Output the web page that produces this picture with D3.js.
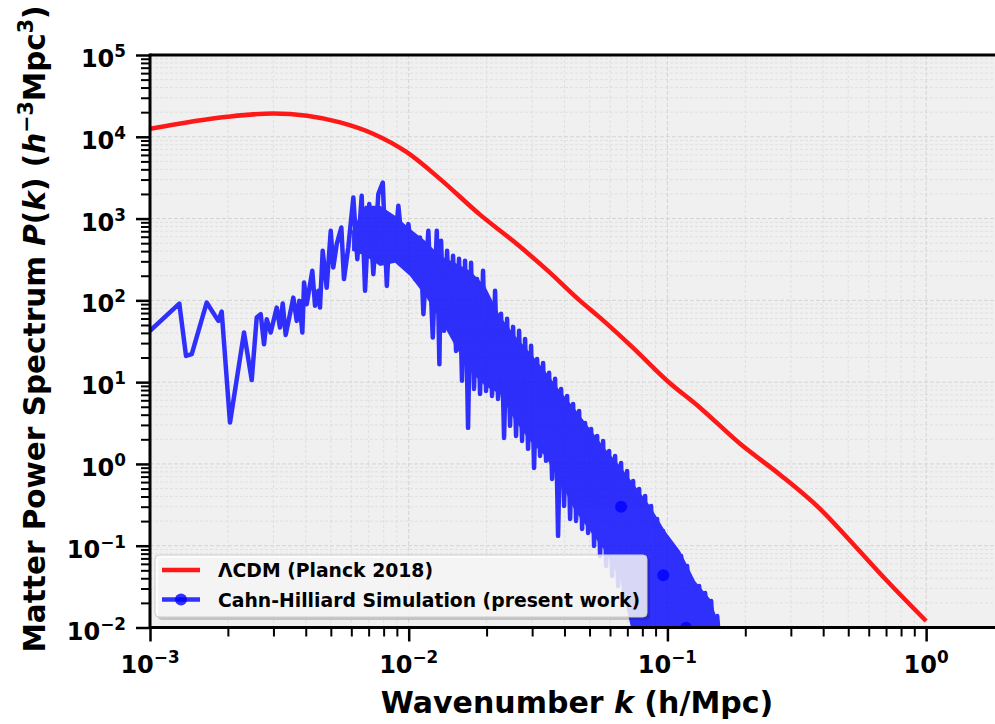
<!DOCTYPE html>
<html>
<head>
<meta charset="utf-8">
<script src="https://cdn.jsdelivr.net/npm/d3@7"></script>
<style>
  body { margin: 0; background: #fff; }
  svg { display: block; font-family: "DejaVu Sans", sans-serif; font-weight: bold; }
</style>
</head>
<body>
<svg id="chart" width="995" height="724"></svg>
<script>
// simulation spectrum (k in h/Mpc, P in (h^-1 Mpc)^3)
const simK = [
  1.0e-3, 1.298e-3, 1.378e-3, 1.45e-3, 1.656e-3, 1.837e-3, 1.893e-3, 2.038e-3, 2.309e-3, 2.473e-3,
  2.585e-3, 2.679e-3, 2.759e-3, 2.826e-3, 2.928e-3, 3.09e-3, 3.18e-3, 3.258e-3, 3.346e-3, 3.581e-3,
  3.691e-3, 3.778e-3, 3.88e-3, 3.94e-3, 4.035e-3, 4.24e-3, 4.345e-3, 4.475e-3, 4.54e-3, 4.65e-3,
  4.82e-3, 4.996e-3, 5.11e-3, 5.27e-3, 5.49e-3, 5.62e-3, 5.84e-3, 6.11e-3, 6.33e-3, 6.58e-3,
  6.78e-3, 7.04e-3, 7.30e-3, 7.63e-3, 7.94e-3, 8.23e-3, 8.47e-3, 8.86e-3, 9.12e-3, 9.53e-3,
  9.97e-3, 0.01058, 0.01106, 0.0114, 0.01191, 0.01239, 0.01284, 0.01314,
  0.01334, 0.01370, 0.01407, 0.01445, 0.01484, 0.01524, 0.01565, 0.01607, 0.01651, 0.01696,
  0.01742, 0.01789, 0.01837, 0.01887, 0.01938, 0.01991, 0.02044, 0.02100, 0.02157, 0.02215,
  0.02275, 0.02337, 0.02400, 0.02465, 0.02532, 0.02600, 0.02671, 0.02743, 0.02817, 0.02894,
  0.02972, 0.03052, 0.03135, 0.03220, 0.03307, 0.03396, 0.03488, 0.03583, 0.03680, 0.03779,
  0.03882, 0.03987, 0.04095, 0.04206, 0.04319, 0.04436, 0.04556, 0.04680, 0.04806, 0.04937,
  0.05070, 0.05207, 0.05348, 0.05493, 0.05641, 0.05794, 0.05951, 0.06112, 0.06277, 0.06447,
  0.06622, 0.06801, 0.06985, 0.07174, 0.07368, 0.07568, 0.07773, 0.07983, 0.08199, 0.08421,
  0.08649, 0.08883, 0.09124, 0.09371, 0.09625, 0.09886, 0.1015, 0.1043, 0.1071, 0.1100,
  0.1130, 0.1160, 0.1192, 0.1224, 0.1257, 0.1291, 0.1326, 0.1362, 0.1399, 0.1437,
  0.1476, 0.1516, 0.1557, 0.1599
];
const simP = [
  42.4, 91.4, 20.9, 22.0, 94.0, 56.1, 72.9, 3.20, 40.4, 10.6,
  61.6, 67.8, 29.1, 58.9, 40.4, 81.6, 46.5, 91.4, 37.8, 108,
  56.1, 98.6, 40.4, 165, 89.8, 230, 85.7, 131, 81.6, 403,
  143, 708, 252, 487, 777, 182, 443, 1808, 319, 1897,
  131, 1503, 209, 1991, 2760, 150, 1030, 509, 1432, 334,
  855, 182, 586, 67.8, 708, 35.1, 708, 16.6,
  534, 42.4, 403, 46.1, 350, 24.1, 322, 10.4, 304, 2.76,
  288, 8.27, 183, 7.18, 230, 7.82, 98.6, 6.79, 131, 6.24,
  68.4, 2.08, 59.4, 2.92, 47.4, 2.20, 42.4, 1.91, 33.8, 1.53,
  27.8, 0.894, 19.2, 1.25, 17.2, 1.09, 13.0, 0.655, 11.0, 0.132,
  8.27, 0.306, 6.79, 0.212, 5.42, 0.201, 4.45, 0.160, 3.17, 0.143,
  2.68, 0.0993, 2.20, 0.0749, 1.91, 0.0565, 1.44, 0.0427, 1.25, 0.0322,
  1.03, 0.0243, 0.821, 0.0159, 0.619, 0.0104, 0.494, 0.006, 0.406, 0.005,
  0.306, 0.005, 0.212, 0.004, 0.151, 0.005, 0.114, 0.005, 0.0913, 0.004,
  0.0749, 0.005, 0.0565, 0.005, 0.0350, 0.004, 0.0322, 0.005, 0.0264, 0.005,
  0.0211, 0.004, 0.0138, 0.005
];
// where the simulated modes are so dense they merge into a solid band: its upper / lower edge
const bandK = [6.04e-3, 6.78e-3, 7.75e-3, 8.86e-3, 0.01012, 0.01157, 0.01322, 0.01510, 0.01726, 0.01973,
  0.02254, 0.02577, 0.02945, 0.03365, 0.03846, 0.04395, 0.05023, 0.05741, 0.06561, 0.07499,
  0.08570, 0.09795, 0.1119, 0.1279, 0.1462, 0.1542];
const bandHi = [708, 1432, 1432, 1080, 749, 534, 350, 288, 229.5, 150,
  64.6, 36.8, 22.8, 13.7, 7.82, 4.71, 2.68, 1.53, 0.945, 0.538,
  0.306, 0.151, 0.0863, 0.0371, 0.0223, 0.0138];
const bandLo = [403, 350, 264, 288, 199, 113.5, 59.4, 27.8, 13.7, 9.0,
  7.18, 3.36, 1.91, 1.25, 0.619, 0.266, 0.151, 0.0863, 0.0392, 0.006,
  0.006, 0.006, 0.006, 0.006, 0.006, 0.006];
// the few markers that show through
const markK = [0.0662, 0.0964, 0.1181];
const markP = [0.300, 0.0435, 0.00994];

// LCDM linear spectrum
const lcdmK = [1e-3, 1.99e-3, 2.99e-3, 4.05e-3, 5.43e-3, 7.28e-3, 9.86e-3, 0.0132, 0.0189, 0.0253,
  0.0342, 0.046, 0.055, 0.0737, 0.0997, 0.134, 0.191, 0.273, 0.389, 0.522, 0.707, 1.0];
const lcdmP = [1.25e4, 1.76e4, 1.93e4, 1.81e4, 1.50e4, 1.09e4, 6.43e3, 3.06e3, 1.11e3, 534,
  236, 98.6, 61, 26.2, 10.4, 4.84, 1.76, 0.734, 0.282, 0.105, 0.037, 0.012];

const xTickVals = [1e-3, 1e-2, 1e-1, 1];
const xTickExps = ["\u22123", "\u22122", "\u22121", "0"];
const yTickVals = [1e-2, 1e-1, 1, 10, 100, 1e3, 1e4, 1e5];
const yTickExps = ["\u22122", "\u22121", "0", "1", "2", "3", "4", "5"];
const legendLabels = ["\u039BCDM (Planck 2018)", "Cahn-Hilliard Simulation (present work)"];

const plotL = 150, plotT = 55, plotR = 1004, plotB = 627.5;

const svg = d3.select("#chart");

const x = d3.scaleLog().domain([1e-3, 2]).range([plotL, plotR]);
const y = d3.scaleLog().domain([1e-2, 1e5]).range([plotB, plotT]);

// minor tick positions
const xMinor = [];
for (let d = -3; d <= 0; d++) for (let m = 2; m <= 9; m++) { const v = m * Math.pow(10, d); if (v <= 2) xMinor.push(v); }
const yMinor = [];
for (let d = -2; d <= 4; d++) for (let m = 2; m <= 9; m++) yMinor.push(m * Math.pow(10, d));

svg.append("defs").append("clipPath").attr("id", "plotclip")
  .append("rect").attr("x", plotL).attr("y", plotT).attr("width", plotR - plotL).attr("height", plotB - plotT);

svg.append("rect")
  .attr("x", plotL).attr("y", plotT).attr("width", plotR - plotL).attr("height", plotB - plotT)
  .attr("fill", "#f0f0f0");

// grid
const grid = svg.append("g").attr("clip-path", "url(#plotclip)");
grid.selectAll(".gxm").data(xMinor).enter().append("line")
  .attr("x1", d => x(d)).attr("x2", d => x(d)).attr("y1", plotT).attr("y2", plotB)
  .attr("stroke", "#dcdcdc").attr("stroke-width", 0.8).attr("stroke-dasharray", "3,2");
grid.selectAll(".gym").data(yMinor).enter().append("line")
  .attr("x1", plotL).attr("x2", plotR).attr("y1", d => y(d)).attr("y2", d => y(d))
  .attr("stroke", "#dcdcdc").attr("stroke-width", 0.8).attr("stroke-dasharray", "3,2");
grid.selectAll(".gx").data(xTickVals).enter().append("line")
  .attr("x1", d => x(d)).attr("x2", d => x(d)).attr("y1", plotT).attr("y2", plotB)
  .attr("stroke", "#d4d4d4").attr("stroke-width", 1).attr("stroke-dasharray", "4,2");
grid.selectAll(".gy").data(yTickVals).enter().append("line")
  .attr("x1", plotL).attr("x2", plotR).attr("y1", d => y(d)).attr("y2", d => y(d))
  .attr("stroke", "#d4d4d4").attr("stroke-width", 1).attr("stroke-dasharray", "4,2");

// curves
const plot = svg.append("g").attr("clip-path", "url(#plotclip)");

const lcdmData = lcdmK.map((k, i) => [k, lcdmP[i]]);
const simData = simK.map((k, i) => [k, simP[i]]);
const bandData = bandK.map((k, i) => [k, bandLo[i], bandHi[i]]);

plot.append("path")
  .datum(lcdmData)
  .attr("d", d3.line().x(d => x(d[0])).y(d => y(d[1])).curve(d3.curveMonotoneX))
  .attr("fill", "none")
  .attr("stroke", "#ff0000")
  .attr("stroke-opacity", 0.9)
  .attr("stroke-width", 4.5);

// band + line share one alpha so they don't stack
const sim = plot.append("g").attr("opacity", 0.8);
sim.append("path")
  .datum(bandData)
  .attr("d", d3.area().x(d => x(d[0])).y0(d => y(d[1])).y1(d => y(d[2])))
  .attr("fill", "#0000ff");
sim.append("path")
  .datum(simData)
  .attr("d", d3.line().x(d => x(d[0])).y(d => y(d[1])))
  .attr("fill", "none")
  .attr("stroke", "#0000ff")
  .attr("stroke-width", 4.5)
  .attr("stroke-linejoin", "round");

plot.selectAll(".mk").data(markK).enter().append("circle")
  .attr("cx", d => x(d))
  .attr("cy", (d, i) => y(markP[i]))
  .attr("r", 6)
  .attr("fill", "#0000ff")
  .attr("fill-opacity", 0.8);

// ticks
const xAxisMajor = svg.append("g").attr("transform", `translate(0,${plotB})`)
  .call(d3.axisBottom(x).tickValues(xTickVals).tickSize(14).tickSizeOuter(0).tickFormat(""));
const xAxisMinor = svg.append("g").attr("transform", `translate(0,${plotB})`)
  .call(d3.axisBottom(x).tickValues(xMinor).tickSize(9).tickSizeOuter(0).tickFormat(""));
const yAxisMajor = svg.append("g").attr("transform", `translate(${plotL},0)`)
  .call(d3.axisLeft(y).tickValues(yTickVals).tickSize(14).tickSizeOuter(0).tickFormat(""));
const yAxisMinor = svg.append("g").attr("transform", `translate(${plotL},0)`)
  .call(d3.axisLeft(y).tickValues(yMinor).tickSize(9).tickSizeOuter(0).tickFormat(""));
[xAxisMajor, xAxisMinor, yAxisMajor, yAxisMinor].forEach(g => g.select(".domain").remove());
[xAxisMajor, yAxisMajor].forEach(g => g.selectAll(".tick line").attr("stroke", "#000").attr("stroke-width", 2.5));
[xAxisMinor, yAxisMinor].forEach(g => g.selectAll(".tick line").attr("stroke", "#000").attr("stroke-width", 2));

// spines
svg.append("line").attr("x1", plotL).attr("x2", plotL).attr("y1", plotT - 1.5).attr("y2", plotB + 1.5)
  .attr("stroke", "#000").attr("stroke-width", 3);
svg.append("line").attr("x1", plotL).attr("x2", plotR).attr("y1", plotT).attr("y2", plotT)
  .attr("stroke", "#000").attr("stroke-width", 3);
svg.append("line").attr("x1", plotL).attr("x2", plotR).attr("y1", plotB).attr("y2", plotB)
  .attr("stroke", "#000").attr("stroke-width", 3);

// tick labels
const tickFont = 24;
xTickVals.forEach((v, i) => {
  const t = svg.append("text")
    .attr("x", x(v)).attr("y", 673)
    .attr("text-anchor", "middle")
    .attr("font-size", tickFont)
    .attr("fill", "#000");
  t.append("tspan").text("10");
  t.append("tspan").attr("dy", -10).attr("font-size", tickFont * 0.7).text(xTickExps[i]);
});
yTickVals.forEach((v, i) => {
  const t = svg.append("text")
    .attr("x", 126).attr("y", y(v) + 12)
    .attr("text-anchor", "end")
    .attr("font-size", tickFont)
    .attr("fill", "#000");
  t.append("tspan").text("10");
  t.append("tspan").attr("dy", -10).attr("font-size", tickFont * 0.7).text(yTickExps[i]);
});

// axis titles
const xl = svg.append("text")
  .attr("x", (plotL + plotR) / 2).attr("y", 713)
  .attr("text-anchor", "middle").attr("font-size", 30).attr("fill", "#000");
xl.append("tspan").text("Wavenumber ");
xl.append("tspan").attr("font-style", "italic").text("k");
xl.append("tspan").text(" (h/Mpc)");

const yl = svg.append("text")
  .attr("transform", "translate(45,329) rotate(-90)")
  .attr("text-anchor", "middle").attr("font-size", 29.5).attr("fill", "#000");
yl.append("tspan").text("Matter Power Spectrum ");
yl.append("tspan").attr("font-style", "italic").text("P");
yl.append("tspan").text("(");
yl.append("tspan").attr("font-style", "italic").text("k");
yl.append("tspan").text(") (");
yl.append("tspan").attr("font-style", "italic").text("h");
yl.append("tspan").attr("dy", -12).attr("font-size", 20.6).text("\u22123");
yl.append("tspan").attr("dy", 12).text("Mpc");
yl.append("tspan").attr("dy", -12).attr("font-size", 20.6).text("3");
yl.append("tspan").attr("dy", 12).text(")");

// legend
const lg = svg.append("g");
lg.append("rect")
  .attr("x", 158).attr("y", 558).attr("width", 492).attr("height", 62).attr("rx", 4)
  .attr("fill", "#000").attr("fill-opacity", 0.18);
lg.append("rect")
  .attr("x", 155).attr("y", 555).attr("width", 492).attr("height", 62).attr("rx", 4)
  .attr("fill", "#ffffff").attr("fill-opacity", 0.82)
  .attr("stroke", "#cccccc").attr("stroke-width", 1);
const legendColors = ["#ff0000", "#0000ff"];
const legendOpac = [0.9, 0.8];
legendLabels.forEach((lab, i) => {
  const ly = 570 + i * 29.5;
  lg.append("line").attr("x1", 162).attr("x2", 200).attr("y1", ly).attr("y2", ly)
    .attr("stroke", legendColors[i]).attr("stroke-opacity", legendOpac[i]).attr("stroke-width", 4.5);
  if (i === 1) {
    lg.append("circle").attr("cx", 181).attr("cy", ly).attr("r", 6)
      .attr("fill", "#0000ff").attr("fill-opacity", 0.8);
  }
  lg.append("text").attr("x", 218).attr("y", ly + 7)
    .attr("font-size", 18.8).attr("fill", "#000").text(lab);
});
</script>
</body>
</html>
